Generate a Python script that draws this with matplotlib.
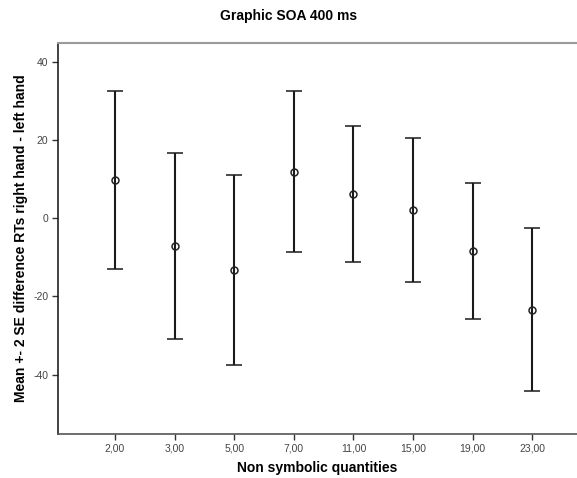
import matplotlib
matplotlib.use("Agg")
import matplotlib.pyplot as plt
import numpy as np

# Data
categories = ["2,00", "3,00", "5,00", "7,00", "11,00", "15,00", "19,00", "23,00"]
means = [9.8, -7.0, -13.3, 11.9, 6.2, 2.1, -8.3, -23.5]
upper = [32.5, 16.7, 11.1, 32.6, 23.6, 20.6, 9.0, -2.5]
lower = [-13.0, -30.8, -37.6, -8.7, -11.3, -16.4, -25.7, -44.3]
y_ticks = [-40, -20, 0, 20, 40]

plt.rcParams["font.family"] = ["Liberation Sans", "DejaVu Sans"]

fig = plt.figure(figsize=(5.77, 4.78), dpi=100)
ax = fig.add_axes([58 / 577, 44 / 478, 1 - 58 / 577, (434 - 43) / 478])

x = np.arange(len(categories))
means = np.array(means)
yerr = np.vstack([means - np.array(lower), np.array(upper) - means])
ax.errorbar(x, means, yerr=yerr, fmt="o", mfc="none", mec="#222222", ms=5,
            mew=1.1, ecolor="#1a1a1a", elinewidth=1.5, capsize=5.8, capthick=1.5)

ax.set_xlim(-0.956, 7.75)
ax.set_ylim(-55.2, 44.8)
ax.set_xticks(x)
ax.set_xticklabels(categories)
ax.set_yticks(y_ticks)
ax.set_yticklabels([str(v) for v in y_ticks])
ax.tick_params(direction="out", length=4, width=1, colors="#333333",
               labelsize=7.5, labelcolor="#444444", pad=3)

ax.spines["top"].set_color("#9a9a9a")
ax.spines["top"].set_linewidth(1.5)
ax.spines["left"].set_color("#222222")
ax.spines["left"].set_linewidth(1.2)
ax.spines["bottom"].set_color("#555555")
ax.spines["bottom"].set_linewidth(1.2)
ax.spines["right"].set_visible(False)

ax.set_xlabel("Non symbolic quantities", fontsize=10, fontweight="bold", labelpad=5)
ax.set_ylabel("Mean +- 2 SE difference RTs right hand - left hand",
              fontsize=10, fontweight="bold", labelpad=4)
fig.text(0.5, 1 - 16 / 478, "Graphic SOA 400 ms", ha="center", va="center",
         fontsize=10, fontweight="bold")

fig.savefig("out.png", dpi=100)
